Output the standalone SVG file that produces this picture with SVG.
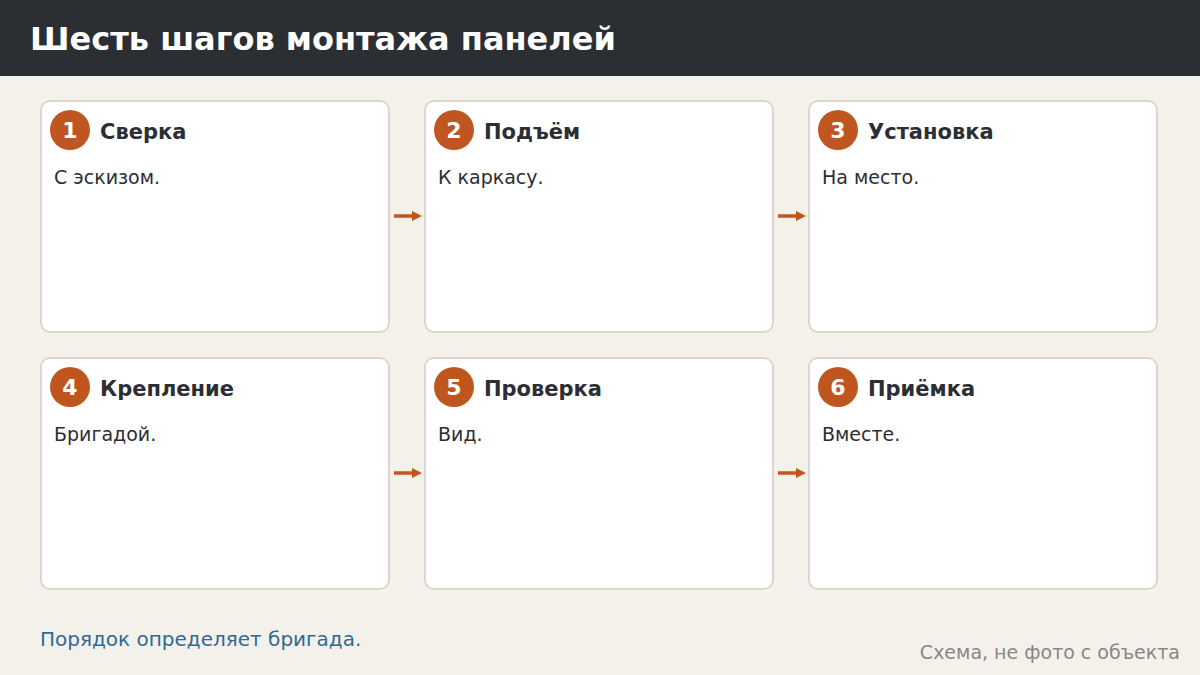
<svg xmlns="http://www.w3.org/2000/svg" width="1200" height="675" viewBox="0 0 1200 675">
<style>
.card{fill:#ffffff;stroke:#ddd6cc;stroke-width:2}
.badge{fill:#c0561f}
.num{font-family:"DejaVu Sans",sans-serif;font-weight:bold;font-size:22px;fill:#ffffff;text-anchor:middle}
.ttl{font-family:"DejaVu Sans",sans-serif;font-weight:bold;font-size:21px;fill:#2b2e33}
.body{font-family:"DejaVu Sans",sans-serif;font-size:19px;fill:#2b2e33}
.conn{stroke:#c0561f;stroke-width:3.5;fill:none}
</style>
<defs>
<marker id="ah" viewBox="0 0 10 10" refX="1" refY="5" markerWidth="10" markerHeight="10" orient="auto" markerUnits="userSpaceOnUse">
<path d="M0,0 L10,5 L0,10 z" fill="#c0561f"/>
</marker>
</defs>
<rect x="0" y="0" width="1200" height="675" fill="#f4f1eb"/>
<rect x="0" y="0" width="1200" height="76" fill="#2b2e33"/>
<text x="30" y="50" font-family="DejaVu Sans, sans-serif" font-weight="bold" font-size="32" fill="#ffffff">Шесть шагов монтажа панелей</text>

<g id="connectors">
<line class="conn" x1="394" y1="216" x2="413" y2="216" marker-end="url(#ah)"/>
<line class="conn" x1="778" y1="216" x2="797" y2="216" marker-end="url(#ah)"/>
<line class="conn" x1="394" y1="473" x2="413" y2="473" marker-end="url(#ah)"/>
<line class="conn" x1="778" y1="473" x2="797" y2="473" marker-end="url(#ah)"/>
</g>

<g id="step1">
<rect class="card" x="41" y="101" width="348" height="231" rx="9"/>
<circle class="badge" cx="70" cy="130" r="20"/>
<text class="num" x="70" y="138">1</text>
<text class="ttl" x="100" y="139">Сверка</text>
<text class="body" x="54" y="184">С эскизом.</text>
</g>
<g id="step2">
<rect class="card" x="425" y="101" width="348" height="231" rx="9"/>
<circle class="badge" cx="454" cy="130" r="20"/>
<text class="num" x="454" y="138">2</text>
<text class="ttl" x="484" y="139">Подъём</text>
<text class="body" x="438" y="184">К каркасу.</text>
</g>
<g id="step3">
<rect class="card" x="809" y="101" width="348" height="231" rx="9"/>
<circle class="badge" cx="838" cy="130" r="20"/>
<text class="num" x="838" y="138">3</text>
<text class="ttl" x="868" y="139">Установка</text>
<text class="body" x="822" y="184">На место.</text>
</g>
<g id="step4">
<rect class="card" x="41" y="358" width="348" height="231" rx="9"/>
<circle class="badge" cx="70" cy="387" r="20"/>
<text class="num" x="70" y="395">4</text>
<text class="ttl" x="100" y="396">Крепление</text>
<text class="body" x="54" y="441">Бригадой.</text>
</g>
<g id="step5">
<rect class="card" x="425" y="358" width="348" height="231" rx="9"/>
<circle class="badge" cx="454" cy="387" r="20"/>
<text class="num" x="454" y="395">5</text>
<text class="ttl" x="484" y="396">Проверка</text>
<text class="body" x="438" y="441">Вид.</text>
</g>
<g id="step6">
<rect class="card" x="809" y="358" width="348" height="231" rx="9"/>
<circle class="badge" cx="838" cy="387" r="20"/>
<text class="num" x="838" y="395">6</text>
<text class="ttl" x="868" y="396">Приёмка</text>
<text class="body" x="822" y="441">Вместе.</text>
</g>

<text x="40" y="646" font-family="DejaVu Sans, sans-serif" font-size="20" fill="#2e6a96">Порядок определяет бригада.</text>
<text x="1180" y="659" font-family="DejaVu Sans, sans-serif" font-size="19" fill="#8a8784" text-anchor="end">Схема, не фото с объекта</text>
</svg>
